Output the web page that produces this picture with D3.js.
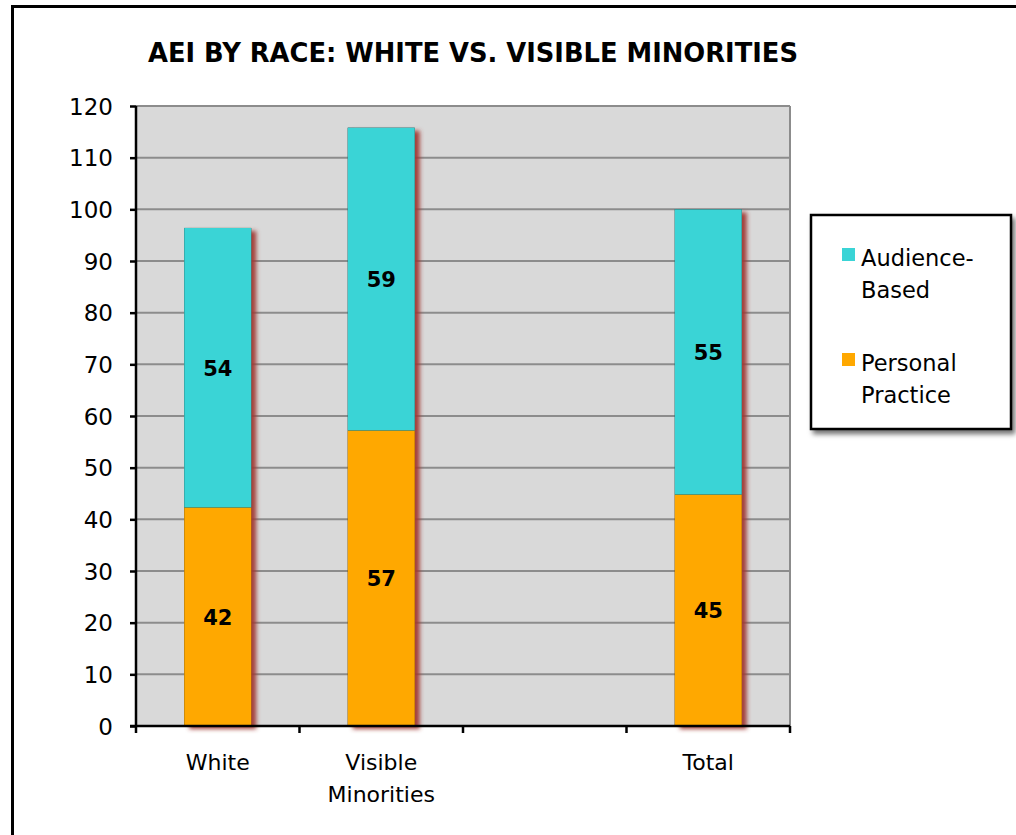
<!DOCTYPE html>
<html>
<head>
<meta charset="utf-8">
<script src="https://cdn.jsdelivr.net/npm/d3@7"></script>
<style>
  body { margin: 0; background: #fff; }
  text { font-family: "DejaVu Sans", Verdana, sans-serif; fill: #000; }
</style>
</head>
<body>
<div id="chart"></div>
<script>
// data
var categories = ["White", "Visible Minorities", "", "Total"];
var personalPractice = [42.3, 57.2, null, 44.8];
var audienceBased = [54.1, 58.6, null, 55.2];
var yTicks = [0, 10, 20, 30, 40, 50, 60, 70, 80, 90, 100, 110, 120];
var seriesNames = ["Audience-Based", "Personal Practice"];
var legendLines = [["Audience-", "Based"], ["Personal", "Practice"]];

var colors = { audience: "#3ad4d6", personal: "#ffa800" };

var W = 1016, H = 835;
var margin = { top: 106, left: 136, right: 226, bottom: 109 };
var width = W - margin.left - margin.right,
  height = H - margin.top - margin.bottom;

var svg = d3.select("#chart").append("svg")
  .attr("width", W)
  .attr("height", H);

var defs = svg.append("defs");
var shadow = defs.append("filter").attr("id", "barShadow")
  .attr("x", "-20%").attr("y", "-5%").attr("width", "160%").attr("height", "110%");
shadow.append("feDropShadow")
  .attr("dx", 5).attr("dy", 3).attr("stdDeviation", 2.2)
  .attr("flood-color", "#a03a30").attr("flood-opacity", 0.95);

var boxShadow = defs.append("filter").attr("id", "boxShadow")
  .attr("x", "-10%").attr("y", "-10%").attr("width", "130%").attr("height", "130%");
boxShadow.append("feDropShadow")
  .attr("dx", 3).attr("dy", 4).attr("stdDeviation", 2.5)
  .attr("flood-color", "#000").attr("flood-opacity", 0.55);

// outer frame (runs off the right and bottom)
svg.append("rect")
  .attr("x", 12.5).attr("y", 6.5)
  .attr("width", W + 20).attr("height", H + 20)
  .attr("fill", "none").attr("stroke", "#000").attr("stroke-width", 3);

// title
svg.append("text")
  .attr("x", 148).attr("y", 62)
  .attr("textLength", 650).attr("lengthAdjust", "spacingAndGlyphs")
  .style("font-family", "'DejaVu Sans Condensed', 'DejaVu Sans', sans-serif")
  .style("font-weight", "bold")
  .style("font-size", "26px")
  .text("AEI BY RACE: WHITE VS. VISIBLE MINORITIES");

var g = svg.append("g")
  .attr("transform", "translate(" + margin.left + "," + margin.top + ")");

var x = d3.scaleBand().domain(d3.range(categories.length))
  .range([0, width]).paddingInner(0.59).paddingOuter(0.295);
var xStep = d3.scaleBand().domain(d3.range(categories.length))
  .range([0, width]).padding(0);
var y = d3.scaleLinear().domain([0, 120]).range([height, 0]);

// plot background
g.append("rect")
  .attr("width", width).attr("height", height)
  .attr("fill", "#d9d9d9");

// grid
g.selectAll(".grid")
  .data(yTicks.filter(function (d) { return d > 0; }))
  .enter().append("line")
  .attr("x1", 0).attr("x2", width)
  .attr("y1", function (d) { return y(d); })
  .attr("y2", function (d) { return y(d); })
  .attr("stroke", "#8c8c8c").attr("stroke-width", 2);

g.append("line")
  .attr("x1", width).attr("x2", width)
  .attr("y1", 0).attr("y2", height)
  .attr("stroke", "#8c8c8c").attr("stroke-width", 2);

// stacked bars
var stacks = categories.map(function (c, i) {
  return { i: i, p: personalPractice[i], a: audienceBased[i] };
}).filter(function (d) { return d.p != null; });

var bars = g.selectAll(".bar").data(stacks).enter().append("g")
  .attr("class", "bar");

bars.append("rect")
  .attr("x", function (d) { return x(d.i); })
  .attr("width", x.bandwidth())
  .attr("y", function (d) { return y(d.p + d.a); })
  .attr("height", function (d) { return height - y(d.p + d.a); })
  .attr("fill", "#000")
  .attr("filter", "url(#barShadow)");

bars.append("rect")
  .attr("x", function (d) { return x(d.i); })
  .attr("width", x.bandwidth())
  .attr("y", function (d) { return y(d.p); })
  .attr("height", function (d) { return height - y(d.p); })
  .attr("fill", colors.personal);

bars.append("rect")
  .attr("x", function (d) { return x(d.i); })
  .attr("width", x.bandwidth())
  .attr("y", function (d) { return y(d.p + d.a); })
  .attr("height", function (d) { return y(d.p) - y(d.p + d.a); })
  .attr("fill", colors.audience);

// value labels
bars.append("text")
  .attr("x", function (d) { return x(d.i) + x.bandwidth() / 2; })
  .attr("y", function (d) { return y(d.p / 2) + 8; })
  .attr("text-anchor", "middle")
  .style("font-weight", "bold").style("font-size", "21px")
  .text(function (d) { return Math.round(d.p); });

bars.append("text")
  .attr("x", function (d) { return x(d.i) + x.bandwidth() / 2; })
  .attr("y", function (d) { return y(d.p + d.a / 2) + 8; })
  .attr("text-anchor", "middle")
  .style("font-weight", "bold").style("font-size", "21px")
  .text(function (d) { return Math.round(d.a); });

// y axis
var yAxis = g.append("g")
  .call(d3.axisLeft(y).tickValues(yTicks).tickSize(6).tickPadding(17));
yAxis.select(".domain").attr("stroke", "#000").attr("stroke-width", 2.5)
  .attr("d", "M0," + height + "V0");
yAxis.selectAll(".tick line").attr("stroke", "#000").attr("stroke-width", 2.5);
yAxis.selectAll(".tick text")
  .style("font-family", "'DejaVu Sans', sans-serif")
  .style("font-size", "23px").attr("dy", "0.36em");

// x axis with ticks between categories
var xAxis = g.append("g").attr("transform", "translate(0," + height + ")");
xAxis.append("line")
  .attr("x1", -6).attr("x2", width)
  .attr("stroke", "#000").attr("stroke-width", 2.5);
xAxis.selectAll(".xt")
  .data(d3.range(categories.length + 1))
  .enter().append("line")
  .attr("x1", function (d) { return d * xStep.step(); })
  .attr("x2", function (d) { return d * xStep.step(); })
  .attr("y1", 0).attr("y2", 7)
  .attr("stroke", "#000").attr("stroke-width", 2.5);

var xLabels = xAxis.selectAll(".xl")
  .data(categories.map(function (c, i) { return { c: c, i: i }; }))
  .enter().append("text")
  .attr("text-anchor", "middle")
  .attr("x", function (d) { return x(d.i) + x.bandwidth() / 2; })
  .attr("y", 44)
  .style("font-size", "22px");
xLabels.each(function (d) {
  var words = d.c.split(" ");
  var t = d3.select(this);
  words.forEach(function (w, k) {
    t.append("tspan")
      .attr("x", x(d.i) + x.bandwidth() / 2)
      .attr("dy", k === 0 ? 0 : 32)
      .text(w);
  });
});

// legend
var legend = svg.append("g").attr("transform", "translate(811,215)");
legend.append("rect")
  .attr("width", 200).attr("height", 214)
  .attr("fill", "#fff").attr("stroke", "#000").attr("stroke-width", 2.5)
  .attr("filter", "url(#boxShadow)");

var legendColors = [colors.audience, colors.personal];
var items = legend.selectAll(".li")
  .data(seriesNames)
  .enter().append("g")
  .attr("transform", function (d, i) { return "translate(31," + (33 + i * 105) + ")"; });
items.append("rect")
  .attr("width", 13).attr("height", 13)
  .attr("fill", function (d, i) { return legendColors[i]; });
items.append("text")
  .attr("x", 19).attr("y", 18)
  .style("font-size", "22.5px")
  .each(function (d, i) {
    var t = d3.select(this);
    legendLines[i].forEach(function (w, k) {
      t.append("tspan").attr("x", 19).attr("dy", k === 0 ? 0 : 32).text(w);
    });
  });
</script>
</body>
</html>
